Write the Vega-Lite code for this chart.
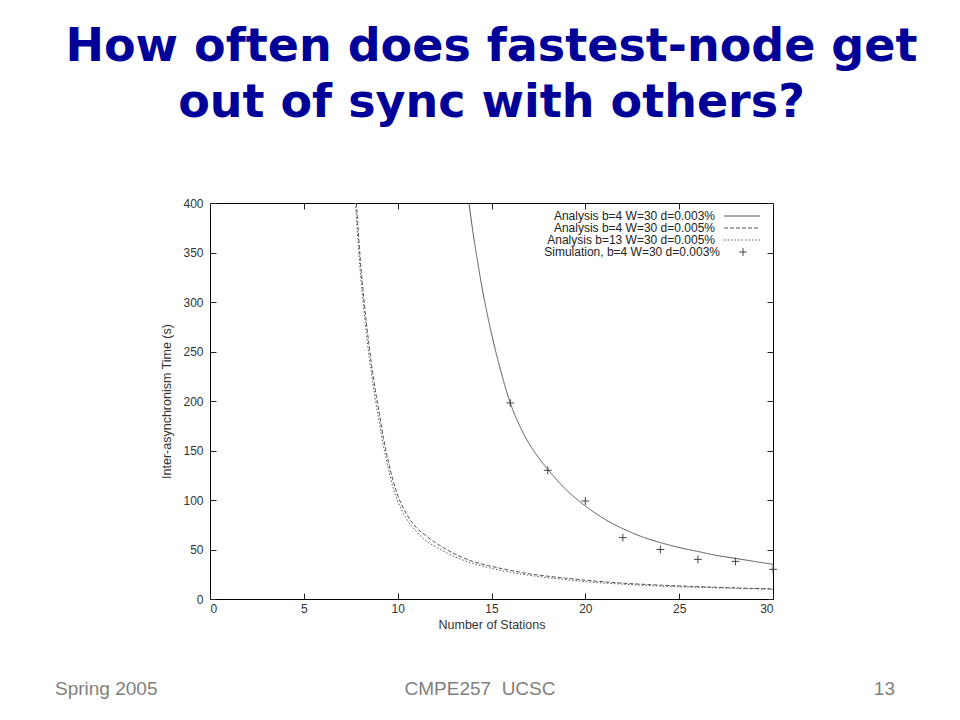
{
  "$schema": "https://vega.github.io/schema/vega-lite/v6.json",
  "width": 563,
  "height": 396,
  "autosize": {"type": "none"},
  "padding": {"left": 210, "top": 203, "right": 187, "bottom": 121},
  "background": "white",
  "config": {
    "view": {"stroke": "black", "strokeWidth": 1},
    "font": "Liberation Sans",
    "axis": {"grid": false, "domain": false, "tickColor": "#222", "tickWidth": 1, "labelFont": "Liberation Sans", "labelFontSize": 12, "labelColor": "#333", "titleFont": "Liberation Sans", "titleFontWeight": "normal", "titleFontSize": 12.5, "titleColor": "#333"}
  },
  "title": {
    "text": ["How often does fastest-node get", "out of sync with others?"],
    "font": "DejaVu Sans",
    "fontWeight": "bold",
    "fontSize": 46,
    "color": "#000099",
    "lineHeight": 56,
    "anchor": "middle",
    "frame": "group",
    "offset": 70
  },
  "datasets": {
    "curves": [
      {"series": "Analysis b=4 W=30 d=0.003%", "x": 13.8, "y": 400},
      {"series": "Analysis b=4 W=30 d=0.003%", "x": 14.0, "y": 372},
      {"series": "Analysis b=4 W=30 d=0.003%", "x": 14.25, "y": 342},
      {"series": "Analysis b=4 W=30 d=0.003%", "x": 14.5, "y": 314},
      {"series": "Analysis b=4 W=30 d=0.003%", "x": 14.75, "y": 290},
      {"series": "Analysis b=4 W=30 d=0.003%", "x": 15.0, "y": 268},
      {"series": "Analysis b=4 W=30 d=0.003%", "x": 15.5, "y": 230},
      {"series": "Analysis b=4 W=30 d=0.003%", "x": 16.0, "y": 198},
      {"series": "Analysis b=4 W=30 d=0.003%", "x": 16.5, "y": 175},
      {"series": "Analysis b=4 W=30 d=0.003%", "x": 17.0, "y": 157},
      {"series": "Analysis b=4 W=30 d=0.003%", "x": 17.5, "y": 143},
      {"series": "Analysis b=4 W=30 d=0.003%", "x": 18.0, "y": 131},
      {"series": "Analysis b=4 W=30 d=0.003%", "x": 19.0, "y": 110},
      {"series": "Analysis b=4 W=30 d=0.003%", "x": 20.0, "y": 94},
      {"series": "Analysis b=4 W=30 d=0.003%", "x": 21.0, "y": 81},
      {"series": "Analysis b=4 W=30 d=0.003%", "x": 22.0, "y": 71},
      {"series": "Analysis b=4 W=30 d=0.003%", "x": 23.0, "y": 63},
      {"series": "Analysis b=4 W=30 d=0.003%", "x": 24.0, "y": 57},
      {"series": "Analysis b=4 W=30 d=0.003%", "x": 25.0, "y": 52},
      {"series": "Analysis b=4 W=30 d=0.003%", "x": 26.0, "y": 48},
      {"series": "Analysis b=4 W=30 d=0.003%", "x": 27.0, "y": 44},
      {"series": "Analysis b=4 W=30 d=0.003%", "x": 28.0, "y": 41},
      {"series": "Analysis b=4 W=30 d=0.003%", "x": 29.0, "y": 38},
      {"series": "Analysis b=4 W=30 d=0.003%", "x": 30.0, "y": 35},
      {"series": "Analysis b=4 W=30 d=0.005%", "x": 7.8, "y": 400},
      {"series": "Analysis b=4 W=30 d=0.005%", "x": 7.9, "y": 372},
      {"series": "Analysis b=4 W=30 d=0.005%", "x": 8.0, "y": 345},
      {"series": "Analysis b=4 W=30 d=0.005%", "x": 8.2, "y": 303},
      {"series": "Analysis b=4 W=30 d=0.005%", "x": 8.4, "y": 268},
      {"series": "Analysis b=4 W=30 d=0.005%", "x": 8.6, "y": 238},
      {"series": "Analysis b=4 W=30 d=0.005%", "x": 8.8, "y": 212},
      {"series": "Analysis b=4 W=30 d=0.005%", "x": 9.0, "y": 190},
      {"series": "Analysis b=4 W=30 d=0.005%", "x": 9.25, "y": 162},
      {"series": "Analysis b=4 W=30 d=0.005%", "x": 9.5, "y": 139},
      {"series": "Analysis b=4 W=30 d=0.005%", "x": 9.75, "y": 120},
      {"series": "Analysis b=4 W=30 d=0.005%", "x": 10.0, "y": 105},
      {"series": "Analysis b=4 W=30 d=0.005%", "x": 10.5, "y": 85},
      {"series": "Analysis b=4 W=30 d=0.005%", "x": 11.0, "y": 72},
      {"series": "Analysis b=4 W=30 d=0.005%", "x": 11.5, "y": 64},
      {"series": "Analysis b=4 W=30 d=0.005%", "x": 12.0, "y": 57},
      {"series": "Analysis b=4 W=30 d=0.005%", "x": 13.0, "y": 46},
      {"series": "Analysis b=4 W=30 d=0.005%", "x": 14.0, "y": 38},
      {"series": "Analysis b=4 W=30 d=0.005%", "x": 15.0, "y": 33},
      {"series": "Analysis b=4 W=30 d=0.005%", "x": 16.0, "y": 29},
      {"series": "Analysis b=4 W=30 d=0.005%", "x": 17.0, "y": 25.5},
      {"series": "Analysis b=4 W=30 d=0.005%", "x": 18.0, "y": 23},
      {"series": "Analysis b=4 W=30 d=0.005%", "x": 19.0, "y": 21},
      {"series": "Analysis b=4 W=30 d=0.005%", "x": 20.0, "y": 19},
      {"series": "Analysis b=4 W=30 d=0.005%", "x": 22.0, "y": 16},
      {"series": "Analysis b=4 W=30 d=0.005%", "x": 24.0, "y": 14},
      {"series": "Analysis b=4 W=30 d=0.005%", "x": 26.0, "y": 12.5},
      {"series": "Analysis b=4 W=30 d=0.005%", "x": 28.0, "y": 11.2},
      {"series": "Analysis b=4 W=30 d=0.005%", "x": 30.0, "y": 10.2},
      {"series": "Analysis b=13 W=30 d=0.005%", "x": 7.75, "y": 400},
      {"series": "Analysis b=13 W=30 d=0.005%", "x": 7.9, "y": 358},
      {"series": "Analysis b=13 W=30 d=0.005%", "x": 8.0, "y": 332},
      {"series": "Analysis b=13 W=30 d=0.005%", "x": 8.2, "y": 292},
      {"series": "Analysis b=13 W=30 d=0.005%", "x": 8.4, "y": 257},
      {"series": "Analysis b=13 W=30 d=0.005%", "x": 8.6, "y": 228},
      {"series": "Analysis b=13 W=30 d=0.005%", "x": 8.8, "y": 203},
      {"series": "Analysis b=13 W=30 d=0.005%", "x": 9.0, "y": 181},
      {"series": "Analysis b=13 W=30 d=0.005%", "x": 9.25, "y": 154},
      {"series": "Analysis b=13 W=30 d=0.005%", "x": 9.5, "y": 132},
      {"series": "Analysis b=13 W=30 d=0.005%", "x": 9.75, "y": 113},
      {"series": "Analysis b=13 W=30 d=0.005%", "x": 10.0, "y": 99},
      {"series": "Analysis b=13 W=30 d=0.005%", "x": 10.5, "y": 80},
      {"series": "Analysis b=13 W=30 d=0.005%", "x": 11.0, "y": 68},
      {"series": "Analysis b=13 W=30 d=0.005%", "x": 11.5, "y": 59},
      {"series": "Analysis b=13 W=30 d=0.005%", "x": 12.0, "y": 53},
      {"series": "Analysis b=13 W=30 d=0.005%", "x": 13.0, "y": 43},
      {"series": "Analysis b=13 W=30 d=0.005%", "x": 14.0, "y": 36},
      {"series": "Analysis b=13 W=30 d=0.005%", "x": 15.0, "y": 31},
      {"series": "Analysis b=13 W=30 d=0.005%", "x": 16.0, "y": 27},
      {"series": "Analysis b=13 W=30 d=0.005%", "x": 17.0, "y": 24},
      {"series": "Analysis b=13 W=30 d=0.005%", "x": 18.0, "y": 21.5},
      {"series": "Analysis b=13 W=30 d=0.005%", "x": 19.0, "y": 19.5},
      {"series": "Analysis b=13 W=30 d=0.005%", "x": 20.0, "y": 17.5},
      {"series": "Analysis b=13 W=30 d=0.005%", "x": 22.0, "y": 15},
      {"series": "Analysis b=13 W=30 d=0.005%", "x": 24.0, "y": 13},
      {"series": "Analysis b=13 W=30 d=0.005%", "x": 26.0, "y": 11.8},
      {"series": "Analysis b=13 W=30 d=0.005%", "x": 28.0, "y": 10.8},
      {"series": "Analysis b=13 W=30 d=0.005%", "x": 30.0, "y": 9.8}
    ],
    "sim": [
      {"series": "Simulation, b=4 W=30 d=0.003%", "x": 16, "y": 198},
      {"series": "Simulation, b=4 W=30 d=0.003%", "x": 18, "y": 130},
      {"series": "Simulation, b=4 W=30 d=0.003%", "x": 20, "y": 99},
      {"series": "Simulation, b=4 W=30 d=0.003%", "x": 22, "y": 62},
      {"series": "Simulation, b=4 W=30 d=0.003%", "x": 24, "y": 50},
      {"series": "Simulation, b=4 W=30 d=0.003%", "x": 26, "y": 40},
      {"series": "Simulation, b=4 W=30 d=0.003%", "x": 28, "y": 38},
      {"series": "Simulation, b=4 W=30 d=0.003%", "x": 30, "y": 30}
    ],
    "footer": [
      {"label": "Spring 2005", "pos": "left"},
      {"label": "CMPE257\u00a0\u00a0UCSC", "pos": "center"},
      {"label": "13", "pos": "right"}
    ]
  },
  "resolve": {"axis": {"x": "independent", "y": "independent"}},
  "layer": [
    {
      "data": {"name": "curves"},
      "mark": {"type": "line", "strokeWidth": 1, "color": "#555", "interpolate": "monotone", "clip": true},
      "encoding": {
        "x": {"field": "x", "type": "quantitative", "scale": {"domain": [0, 30], "nice": false},
              "axis": {"orient": "bottom", "values": [0, 5, 10, 15, 20, 25, 30], "tickSize": -6, "labelPadding": 10, "title": "Number of Stations", "titlePadding": 4}},
        "y": {"field": "y", "type": "quantitative", "scale": {"domain": [0, 400], "nice": false},
              "axis": {"orient": "left", "values": [0, 50, 100, 150, 200, 250, 300, 350, 400], "tickSize": -6, "labelPadding": 13, "title": "Inter-asynchronism Time (s)", "titlePadding": 9}},
        "strokeDash": {"field": "series", "type": "nominal",
          "scale": {"domain": ["Analysis b=4 W=30 d=0.003%", "Analysis b=4 W=30 d=0.005%", "Analysis b=13 W=30 d=0.005%"], "range": [[1, 0], [4, 2], [1.5, 2]]},
          "legend": {"title": null, "orient": "none", "legendX": 526, "legendY": 7, "padding": 0, "symbolType": "M-6,0L6,0", "symbolSize": 36, "symbolStrokeWidth": 1, "symbolStrokeColor": "#555", "symbolFillColor": "transparent", "labelAlign": "right", "labelOffset": -33, "labelFontSize": 12, "labelFont": "Liberation Sans", "labelColor": "#222", "rowPadding": 0, "labelLimit": 400}}
      }
    },
    {
      "data": {"name": "sim"},
      "mark": {"type": "point", "filled": false, "stroke": "#444", "strokeWidth": 1, "size": 60, "opacity": 1, "clip": false},
      "encoding": {
        "x": {"field": "x", "type": "quantitative", "scale": {"domain": [0, 30], "nice": false},
              "axis": {"orient": "top", "values": [0, 5, 10, 15, 20, 25, 30], "tickSize": -6, "labels": false, "title": null}},
        "y": {"field": "y", "type": "quantitative", "scale": {"domain": [0, 400], "nice": false},
              "axis": {"orient": "right", "values": [0, 50, 100, 150, 200, 250, 300, 350, 400], "tickSize": -6, "labels": false, "title": null}},
        "shape": {"field": "series", "type": "nominal",
          "scale": {"range": ["M-1,0L1,0M0,-1L0,1"]},
          "legend": {"title": null, "orient": "none", "legendX": 527, "legendY": 43, "padding": 0, "symbolSize": 60, "symbolStrokeWidth": 1, "symbolStrokeColor": "#444", "symbolFillColor": "transparent", "labelAlign": "right", "labelOffset": -29, "labelFontSize": 12, "labelFont": "Liberation Sans", "labelColor": "#222", "labelLimit": 400}}
      }
    },
    {
      "data": {"name": "footer"},
      "mark": {"type": "text", "font": "Liberation Sans", "fontSize": 19, "color": "#7f7f7f", "baseline": "alphabetic", "align": "left"},
      "encoding": {
        "text": {"field": "label"},
        "x": {"value": -155},
        "y": {"value": 492}
      },
      "transform": [{"filter": "datum.pos === 'left'"}]
    },
    {
      "data": {"name": "footer"},
      "mark": {"type": "text", "font": "Liberation Sans", "fontSize": 19, "color": "#7f7f7f", "baseline": "alphabetic", "align": "center"},
      "encoding": {
        "text": {"field": "label"},
        "x": {"value": 270},
        "y": {"value": 492}
      },
      "transform": [{"filter": "datum.pos === 'center'"}]
    },
    {
      "data": {"name": "footer"},
      "mark": {"type": "text", "font": "Liberation Sans", "fontSize": 19, "color": "#7f7f7f", "baseline": "alphabetic", "align": "right"},
      "encoding": {
        "text": {"field": "label"},
        "x": {"value": 685},
        "y": {"value": 492}
      },
      "transform": [{"filter": "datum.pos === 'right'"}]
    }
  ]
}
